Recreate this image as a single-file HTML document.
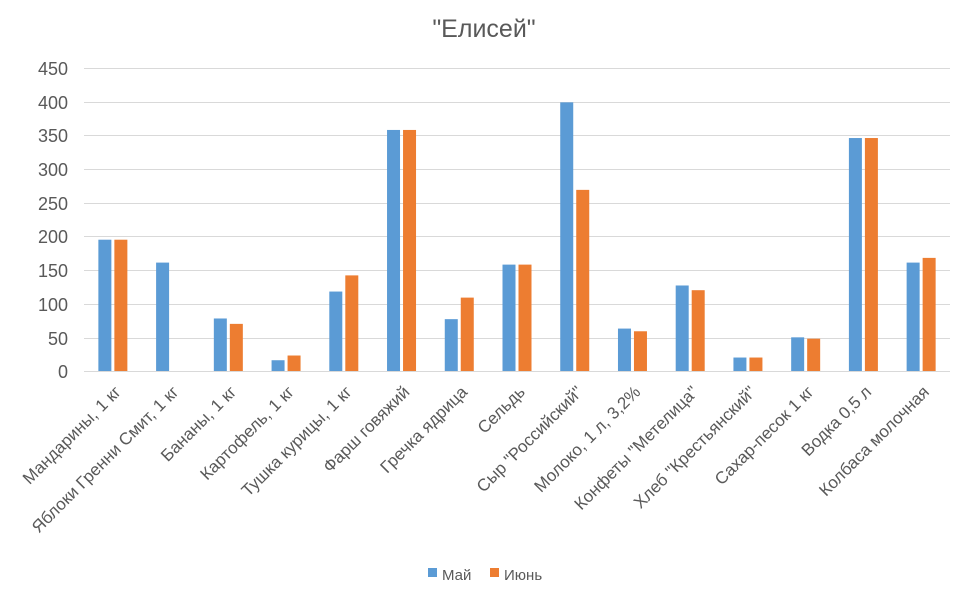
<!DOCTYPE html>
<html><head><meta charset="utf-8"><style>body{margin:0;background:#fff}svg{display:block}</style></head><body>
<svg width="968" height="603" xmlns="http://www.w3.org/2000/svg" font-family="Liberation Sans, DejaVu Sans, sans-serif">
<rect width="968" height="603" fill="#fff"/>
<text x="484" y="37" text-anchor="middle" font-size="25" fill="#595959">"Елисей"</text>
<g stroke="#d9d9d9" stroke-width="1">
<line x1="84" x2="950" y1="68.5" y2="68.5"/><line x1="84" x2="950" y1="102.5" y2="102.5"/><line x1="84" x2="950" y1="135.5" y2="135.5"/><line x1="84" x2="950" y1="169.5" y2="169.5"/><line x1="84" x2="950" y1="203.5" y2="203.5"/><line x1="84" x2="950" y1="236.5" y2="236.5"/><line x1="84" x2="950" y1="270.5" y2="270.5"/><line x1="84" x2="950" y1="304.5" y2="304.5"/><line x1="84" x2="950" y1="338.5" y2="338.5"/><line x1="84" x2="950" y1="371.5" y2="371.5"/>
</g>
<g font-size="18" fill="#595959" text-anchor="end">
<text x="68" y="75">450</text><text x="68" y="109">400</text><text x="68" y="142">350</text><text x="68" y="176">300</text><text x="68" y="210">250</text><text x="68" y="243">200</text><text x="68" y="277">150</text><text x="68" y="311">100</text><text x="68" y="345">50</text><text x="68" y="378">0</text>
</g>
<g id="bars"></g>
<g id="labels" font-size="17" fill="#595959" text-anchor="end"></g>
<rect x="428" y="568" width="9" height="9" fill="#5b9bd5"/><text x="442" y="580" font-size="15" fill="#595959">Май</text>
<rect x="490" y="568" width="9" height="9" fill="#ed7d31"/><text x="504" y="580" font-size="15" fill="#595959">Июнь</text>
<script>
var d=[["Мандарины, 1 кг",195,195],["Яблоки Гренни Смит, 1 кг",161,0],["Бананы, 1 кг",78,70],["Картофель, 1 кг",16,23],["Тушка курицы, 1 кг",118,142],["Фарш говяжий",358,358],["Гречка ядрица",77,109],["Сельдь",158,158],["Сыр \"Российский\"",399,269],["Молоко, 1 л, 3,2%",63,59],["Конфеты \"Метелица\"",127,120],["Хлеб \"Крестьянский\"",20,20],["Сахар-песок 1 кг",50,48],["Водка 0,5 л",346,346],["Колбаса молочная",161,168]];
var ns="http://www.w3.org/2000/svg",b=document.getElementById("bars"),l=document.getElementById("labels");
function r(x,v,c){if(!v)return;var h=v*303/450,e=document.createElementNS(ns,"rect");e.setAttribute("x",x);e.setAttribute("y",371-h);e.setAttribute("width",13);e.setAttribute("height",h);e.setAttribute("fill",c);b.appendChild(e);}
d.forEach(function(a,i){var c=84+(i+0.5)*866/15;r(c-14.5,a[1],"#5b9bd5");r(c+1.5,a[2],"#ed7d31");
var t=document.createElementNS(ns,"text");var x=c+9,y=393;t.setAttribute("x",x);t.setAttribute("y",y);t.setAttribute("transform","rotate(-45 "+x+" "+y+")");t.textContent=a[0];l.appendChild(t);});
</script>
</svg>
</body></html>
